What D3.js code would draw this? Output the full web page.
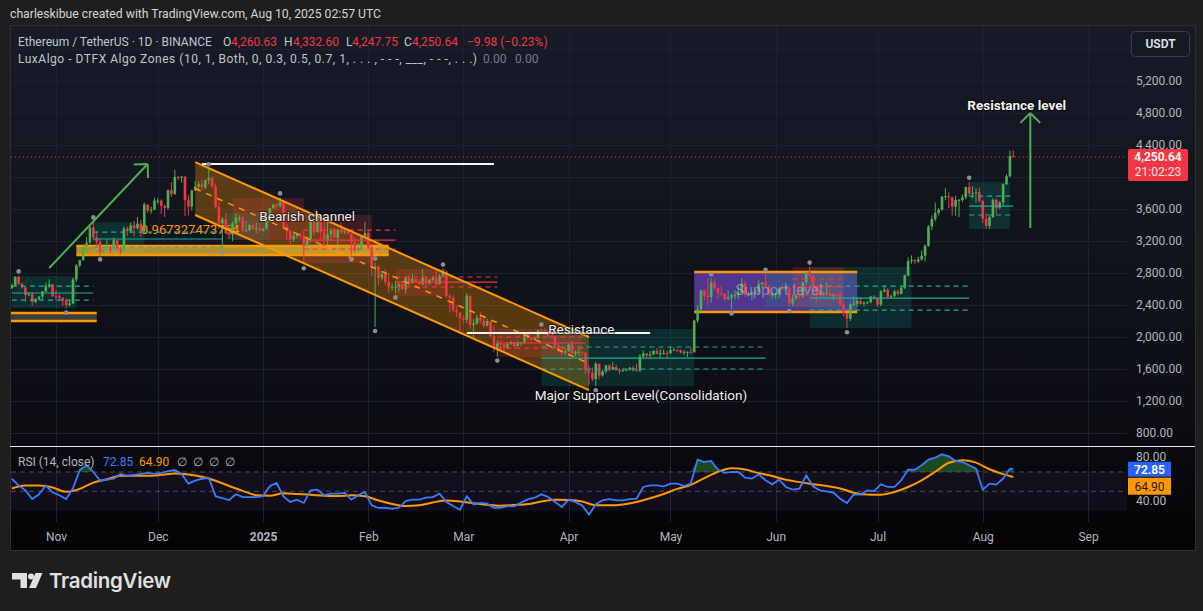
<!DOCTYPE html>
<html>
<head>
<meta charset="utf-8">
<script src="https://cdn.jsdelivr.net/npm/d3@7"></script>
<style>
  html, body { margin: 0; padding: 0; background: #1e1e1e; }
  svg { display: block; font-family: Roboto, "Noto Sans", sans-serif; }
</style>
</head>
<body>
<svg id="chart" width="1203" height="611"></svg>
<script>
// ---- ETH/USDT daily candles, 2024-10-19 .. 2025-08-10 (open = previous close) ----
const startDate = '2024-10-19';
const firstOpen = 2610;
const closes = [
  2645,2750,2665,2620,2525,2535,2440,2475,2505,2570,2640,2660,2515, // oct
  2510,2490,2455,2400,2420,2720,2895,2960,3125,3180,3370,3245,3185,3060,3105,3130,3075,3210,3105,3070,3355,3325,3395,3360,3415,3325,3655,3580,3590,3705, // nov
  3705,3640,3615,3835,3785,4000,3995,4005,3710,3630,3830,3880,3910,3870,3960,3985,3880,3625,3420,3475,3300,3280,3420,3490,3490,3330,3335,3400,3350,3360,3330, // dec
  3355,3450,3610,3655,3635,3685,3380,3325,3220,3265,3285,3265,3135,3225,3450,3310,3475,3305,3215,3280,3330,3240,3340,3310,3320,3290,3180,3080,3115,3250,3300, // jan
  3120,2870,2880,2735,2785,2690,2620,2630,2630,2660,2600,2740,2675,2725,2690,2660,2745,2670,2715,2740,2660,2765,2815,2515,2490,2335,2305,2235, // feb
  2215,2515,2150,2170,2240,2205,2140,2200,2015,1865,1920,1910,1865,1910,1935,1885,1925,1930,2055,1985,1965,1985,2085,2080,2065,2010,2000,1895,1830,1805,1820, // mar
  1905,1795,1815,1815,1805,1580,1555,1475,1665,1520,1570,1645,1595,1625,1585,1575,1585,1590,1615,1585,1580,1755,1795,1770,1785,1825,1790,1800,1800,1795, // apr
  1840,1840,1835,1805,1815,1815,1810,2205,2345,2580,2515,2500,2680,2610,2545,2540,2475,2495,2525,2525,2550,2665,2525,2530,2550,2565,2660,2680,2630,2530,2530, // may
  2540,2605,2595,2610,2420,2480,2525,2510,2685,2815,2770,2645,2580,2535,2545,2545,2510,2525,2520,2405,2295,2230,2410,2415,2450,2415,2425,2435,2505,2485, // jun
  2405,2570,2590,2505,2515,2570,2540,2615,2770,2950,2960,2945,2970,3015,3140,3380,3475,3550,3590,3755,3760,3745,3630,3710,3715,3745,3875,3795,3800,3810,3700, // jul
  3480,3390,3500,3715,3615,3680,3910,4010,4260.63,4250.64 // aug
];
const highs = [
  2665,2760,2770,2680,2630,2560,2560,2485,2510,2575,2680,2720,2660,
  2590,2535,2495,2485,2465,2740,2910,2965,3160,3250,3390,3445,3325,3235,3135,3220,3140,3245,3215,3130,3385,3380,3430,3450,3500,3465,3680,3660,3630,3740,
  3735,3720,3655,3845,3935,4090,4015,4010,4010,3780,3840,3950,3945,3970,3970,4110,4010,3920,3720,3500,3550,3345,3445,3545,3520,3515,3455,3420,3410,3430,3420,
  3365,3485,3620,3665,3675,3745,3700,3415,3335,3320,3295,3305,3335,3260,3475,3470,3525,3490,3450,3450,3360,3365,3350,3425,3345,3355,3290,3250,3180,3280,3440,
  3330,3160,2930,2890,2825,2855,2795,2670,2700,2685,2700,2755,2785,2790,2735,2720,2850,2750,2730,2760,2845,2785,2855,2830,2545,2525,2395,2310,
  2270,2550,2520,2220,2275,2320,2260,2225,2200,2145,1965,1955,1920,1940,1950,1940,1955,1935,2065,2070,2000,2000,2095,2105,2105,2070,2035,2015,1915,1850,1860,
  1920,1955,1835,1860,1825,1815,1640,1620,1690,1665,1590,1650,1655,1690,1660,1610,1605,1600,1625,1635,1665,1785,1830,1800,1825,1835,1860,1845,1840,1825,
  1875,1870,1845,1845,1835,1820,1870,2215,2400,2595,2585,2740,2735,2725,2615,2650,2550,2580,2545,2585,2630,2735,2700,2565,2565,2595,2710,2690,2790,2650,2560,
  2545,2610,2660,2680,2640,2525,2535,2535,2690,2830,2880,2780,2645,2590,2570,2680,2600,2545,2550,2565,2445,2300,2420,2505,2500,2495,2450,2450,2515,2525,
  2495,2590,2635,2610,2525,2590,2595,2630,2780,2995,3020,2975,3000,3080,3160,3400,3520,3680,3615,3760,3860,3810,3755,3765,3725,3780,3880,3940,3885,3860,3870,
  3715,3545,3510,3735,3730,3700,3920,4035,4330,4332.60
];
const lows = [
  2600,2630,2650,2605,2440,2510,2390,2420,2460,2470,2565,2610,2500,
  2460,2470,2390,2355,2380,2410,2690,2870,2950,3070,3155,3205,3115,3020,3030,3085,3040,3060,3080,3030,3060,3260,3300,3255,3345,3250,3300,3550,3540,3585,
  3665,3540,3500,3590,3750,3780,3960,3930,3510,3520,3580,3825,3850,3835,3850,3910,3860,3610,3350,3100,3290,3225,3200,3400,3440,3310,3310,3320,3340,3300,3310,
  3320,3345,3440,3595,3590,3620,3360,3210,3160,3190,3235,3230,2910,3125,3185,3265,3305,3210,3130,3150,3200,3240,3150,3280,3290,3280,3020,3060,3050,3100,3260,
  3100,2760,2125,2650,2710,2650,2555,2580,2545,2560,2590,2545,2620,2665,2680,2655,2645,2610,2650,2700,2625,2655,2750,2490,2310,2310,2250,2075,
  2165,2170,2100,1995,2150,2165,2110,2130,1995,1810,1755,1830,1825,1860,1905,1860,1885,1890,1915,1960,1945,1960,1980,2035,2035,1995,1990,1860,1805,1770,1780,
  1820,1780,1760,1765,1770,1535,1410,1450,1385,1470,1505,1545,1570,1590,1580,1535,1565,1575,1580,1565,1570,1565,1740,1735,1745,1775,1785,1740,1780,1735,
  1790,1825,1815,1795,1775,1750,1790,1805,2175,2330,2455,2400,2425,2590,2480,2515,2450,2460,2345,2470,2475,2545,2500,2505,2460,2540,2530,2610,2620,2505,2480,
  2475,2490,2585,2590,2375,2385,2465,2480,2490,2650,2745,2620,2440,2485,2505,2535,2480,2465,2495,2390,2255,2110,2200,2385,2375,2400,2380,2410,2420,2465,
  2375,2385,2555,2475,2485,2500,2520,2530,2600,2760,2915,2910,2925,2955,2945,3125,3335,3445,3520,3580,3710,3610,3520,3515,3500,3690,3725,3760,3730,3680,3680,
  3425,3355,3355,3490,3530,3600,3640,3900,3995,4247.75
];

// RSI(14) read every 2 days from 2024-10-19, MA read every 4 days
const rsiValues = [
  63,56,51,42,47,56,49,46,42,53, 72,77,70,61,62,63,68,66,67,68,
  69,68,69,71,72,68,58,61,63,64, 45,43,41,47,44,44,44,45,55.5,58.6,
  44.8,39,41.4,38,51,51.7,45.9,47.6,47.6,48.3, 41.4,45.9,49.3,35.5,32.8,32.8,32,33,40,41.4,
  41.4,43.4,44,47.6,39,34.8,31,44.8,36.5,38, 37.2,32.8,33,34.8,34.5,38.5,41.7,43.4,46.9,44.1,
  39,33.8,41.4,39,35.5,25.9,36.6,40.7,42,40.7, 40.7,42,42.4,54.5,56.2,56.2,55.2,58,58,55.5,
  58,82.8,80.3,81.4,72.4,69,70,70,64.1,63.1, 67.6,61.4,57.2,62,54.5,51.7,52.8,66.6,55.2,51,
  50,48.6,42.4,38,46.9,46.6,51,50.3,57.2,54.5, 54.5,61.4,72.4,72.4,76.9,82.8,84.8,88.3,86.2,81.4,
  80.3,76.9,73.4,51.7,58,56.9,63.1,73.4
];
const rsiLast = ['2025-08-10', 72.85];
const maValues = [
  53,56,56,54,49.5,52.5,59,62.5,66,66, 66,67,68.5,67.5,65,61,55.5,50.5,46,45.5,
  48,47.2,46.5,45.5,45.2,45.9,44.8,40.5,37,34.8, 35.5,38.5,40.5,39.5,37.8,36,35,35.8,36.8,39.5,
  41.3,41,39.5,35.5,35.5,36.4,39,42.9,47.3,52.5, 56.7,63.6,70.2,73.8,72.5,68.8,65.8,62,59.5,57.3,
  55.4,53,48.6,46.6,46.5,49.3,54.5,61.4,70.2,79.5, 82.2,79.7,72.8,67.8
];
const maLast = ['2025-08-10', 64.90];

// axes
const monthTicks = ['2024-11-01','2024-12-01','2025-01-01','2025-02-01','2025-03-01','2025-04-01','2025-05-01','2025-06-01','2025-07-01','2025-08-01','2025-09-01'];
const monthLabels = ['Nov','Dec','2025','Feb','Mar','Apr','May','Jun','Jul','Aug','Sep'];
const priceTicks = [800,1200,1600,2000,2400,2800,3200,3600,4000,4400,4800,5200,5600];
const hiddenPriceLabels = [4000, 5600]; // covered by the price tag and the currency button
const rsiTicks = [40, 80];
const lastPrice = 4250.64;

// DTFX zones [from, to, top, bottom] and their levels [from, to, upper, mid, lower]
const bullZones = [
  ['2024-10-19','2024-11-07',2762,2362], ['2024-11-12','2024-11-27',3437,3025],
  ['2024-12-21','2025-01-03',3550,3212], ['2025-03-24','2025-05-08',2100,1387],
  ['2025-05-29','2025-06-21',2800,2375], ['2025-06-11','2025-07-11',2875,2112],
  ['2025-07-28','2025-08-09',3937,3350]
];
const bearZones = [
  ['2024-12-23','2025-01-13',3737,3212], ['2025-01-13','2025-02-02',3525,2925],
  ['2025-02-09','2025-02-24',2850,2512], ['2025-03-11','2025-04-05',2100,1750],
  ['2025-06-06','2025-06-21',2875,2375]
];
const bullLevels = [
  ['2024-10-19','2024-11-12',2637,2550,2462], ['2024-11-12','2024-12-20',3312,3225,3125],
  ['2025-03-24','2025-05-29',1875,1737,1600], ['2025-06-11','2025-07-28',2637,2487,2337],
  ['2025-07-28','2025-08-10',3762,3637,3525]
];
const bearLevels = [
  ['2025-01-13','2025-02-09',3337,3212,3100], ['2025-02-09','2025-03-11',2750,2687,2625],
  ['2025-03-11','2025-04-06',2000,1925,1862], ['2025-06-06','2025-06-21',2725,2625,2525]
];
const pivotHighs = ['2024-10-21','2024-11-12','2024-12-16','2025-01-06','2025-02-03','2025-02-23','2025-03-24','2025-05-13','2025-05-29','2025-06-11','2025-07-28'];
const pivotLows = ['2024-11-04','2024-11-14','2024-12-20','2025-01-13','2025-01-27','2025-02-03','2025-02-09','2025-03-11','2025-04-09','2025-05-19','2025-06-05','2025-06-22'];

// hand drawings
const supplyZone = ['2024-11-07','2025-02-07',3137,3025];
const baseZone = ['2024-10-18','2024-11-13',2300,2200];
const supportBox = ['2025-05-08','2025-06-25',2812,2312];
const channelTop = [['2024-12-12',4187],['2025-04-07',2000]];
const channelBottom = [['2024-12-12',3525],['2025-04-07',1337]];
const trendArrow = [['2024-10-30',2862],['2024-11-28',4162]];
const targetArrow = [['2025-08-15',3362],['2025-08-15',4800]];
const topLine = [['2024-12-14',4162],['2025-03-10',4162]];
const resistanceLine = [['2025-03-02',2050],['2025-04-25',2050]];
const notes = [
  {text: 'Bearish channel', date: '2025-01-14', price: 3512, anchor: 'middle'},
  {text: 'Resistance', date: '2025-03-26', price: 2100, anchor: 'start'},
  {text: 'Major Support Level(Consolidation)', date: '2025-03-22', price: 1275, anchor: 'start'},
  {text: 'Resistance level', date: '2025-08-11', price: 4900, anchor: 'middle', bold: true}
];

// ---------------------------------------------------------------
const parse = d3.utcParse('%Y-%m-%d');
const DAY = 864e5;
const t0 = parse(startDate);
const candles = closes.map((c, i) => {
  const o = i ? closes[i - 1] : firstOpen;
  return { date: new Date(+t0 + i * DAY), o, c, h: Math.max(highs[i], o, c), l: Math.min(lows[i], o, c) };
});

const svg = d3.select('#chart');
const padL = 11, padR = 1127, paneTop = 26, mainBottom = 446, rsiTop = 447, rsiBottom = 522;

const x = d3.scaleUtc().domain([parse('2024-11-01'), parse('2025-09-01')]).range([56, 1088]);
const y = d3.scaleLinear().domain([800, 5200]).range([433, 81]);
const yR = d3.scaleLinear().domain([40, 80]).range([501, 462.3]);
const px = d => x(parse(d));

const defs = svg.append('defs');
const grad = defs.append('linearGradient').attr('id', 'bg').attr('x1', 0).attr('y1', 0).attr('x2', 0).attr('y2', 1);
grad.append('stop').attr('offset', '0%').attr('stop-color', '#171b26');
grad.append('stop').attr('offset', '75%').attr('stop-color', '#0c0d13');
grad.append('stop').attr('offset', '100%').attr('stop-color', '#030304');
defs.append('clipPath').attr('id', 'clipMain').append('rect').attr('x', padL).attr('y', paneTop).attr('width', padR - padL).attr('height', mainBottom - paneTop);
defs.append('clipPath').attr('id', 'clipRsi').append('rect').attr('x', padL).attr('y', rsiTop).attr('width', padR - padL).attr('height', rsiBottom - rsiTop);
defs.append('clipPath').attr('id', 'clipRsiAxis').append('rect').attr('x', padR).attr('y', rsiTop + 1).attr('width', 70).attr('height', rsiBottom - rsiTop);

// page + panel
svg.append('rect').attr('width', 1203).attr('height', 611).attr('fill', '#1e1e1e');
svg.append('rect').attr('x', 10.5).attr('y', 25.5).attr('width', 1185).attr('height', 525)
  .attr('fill', 'url(#bg)').attr('stroke', '#2f2f2f');

// header
svg.append('text').attr('x', 10).attr('y', 18).attr('font-size', 12.5).attr('fill', '#d6d6d6')
  .attr('textLength', 371).attr('lengthAdjust', 'spacingAndGlyphs')
  .text('charleskibue created with TradingView.com, Aug 10, 2025 02:57 UTC');

// grid
const grid = svg.append('g').attr('stroke', '#1d212c').attr('stroke-width', 1);
grid.selectAll('.hg').data(priceTicks).join('line')
  .attr('x1', padL).attr('x2', padR).attr('y1', d => Math.round(y(d)) + 0.5).attr('y2', d => Math.round(y(d)) + 0.5);
grid.selectAll('.vg').data(monthTicks).join('line')
  .attr('y1', paneTop).attr('y2', rsiBottom).attr('x1', d => Math.round(px(d)) + 0.5).attr('x2', d => Math.round(px(d)) + 0.5);

const main = svg.append('g').attr('clip-path', 'url(#clipMain)');

// zones under candles
const zoneRect = (g, z) => g.append('rect')
  .attr('x', px(z[0])).attr('width', px(z[1]) - px(z[0]))
  .attr('y', y(z[2])).attr('height', y(z[3]) - y(z[2]));

main.append('path')
  .attr('d', `M${px(channelTop[0][0])},${y(channelTop[0][1])}L${px(channelTop[1][0])},${y(channelTop[1][1])}` +
             `L${px(channelBottom[1][0])},${y(channelBottom[1][1])}L${px(channelBottom[0][0])},${y(channelBottom[0][1])}Z`)
  .attr('fill', '#ff9800').attr('fill-opacity', 0.3);

zoneRect(main, supportBox).attr('fill', '#5b3ea3').attr('fill-opacity', 0.85);
bullZones.forEach(z => zoneRect(main, z).attr('fill', '#089981').attr('fill-opacity', 0.2));
bearZones.forEach(z => zoneRect(main, z).attr('fill', '#f23645').attr('fill-opacity', 0.2));

zoneRect(main, supplyZone).attr('fill', '#dcb43c').attr('fill-opacity', 0.78);
zoneRect(main, baseZone).attr('fill', '#3c3c3e');
[supplyZone, baseZone, supportBox].forEach(z => {
  [z[2], z[3]].forEach(p => main.append('line')
    .attr('x1', px(z[0])).attr('x2', px(z[1])).attr('y1', y(p)).attr('y2', y(p))
    .attr('stroke', '#ff9800').attr('stroke-width', 2.5));
});

// fib number left by the indicator
main.append('text').attr('x', px('2024-11-26')).attr('y', y(3350)).attr('dy', '0.35em')
  .attr('font-size', 13).attr('fill', '#ff9800').text('0.967327473764');

// candles
const bw = 2.6;
const cg = main.append('g');
cg.selectAll('line').data(candles).join('line')
  .attr('x1', d => x(d.date)).attr('x2', d => x(d.date))
  .attr('y1', d => y(d.h)).attr('y2', d => y(d.l))
  .attr('stroke', d => d.c >= d.o ? '#4caf50' : '#f23645').attr('stroke-width', 1);
cg.selectAll('rect').data(candles).join('rect')
  .attr('x', d => x(d.date) - bw / 2).attr('width', bw)
  .attr('y', d => y(Math.max(d.o, d.c)))
  .attr('height', d => Math.max(1, Math.abs(y(d.o) - y(d.c))))
  .attr('fill', d => d.c >= d.o ? '#4caf50' : '#f23645');

// zone levels
const levelLines = (list, color) => list.forEach(l => {
  [[l[2], '5,4'], [l[3], null], [l[4], '5,4']].forEach(([p, dash]) => main.append('line')
    .attr('x1', px(l[0])).attr('x2', px(l[1])).attr('y1', y(p)).attr('y2', y(p))
    .attr('stroke', color).attr('stroke-width', 1.2).attr('stroke-dasharray', dash));
});
levelLines(bullLevels, '#22ab94');
levelLines(bearLevels, '#f23645');

// channel borders + midline
const seg = (a, b) => `M${px(a[0])},${y(a[1])}L${px(b[0])},${y(b[1])}`;
main.append('path').attr('d', seg(channelTop[0], channelTop[1]) + seg(channelBottom[0], channelBottom[1]))
  .attr('stroke', '#ff9800').attr('stroke-width', 2).attr('fill', 'none');
const mid = i => [channelTop[i][0], (channelTop[i][1] + channelBottom[i][1]) / 2];
main.append('path').attr('d', seg(mid(0), mid(1)))
  .attr('stroke', '#ff9800').attr('stroke-width', 1.5).attr('stroke-dasharray', '6,6').attr('fill', 'none');

// white lines
[topLine, resistanceLine].forEach(l => main.append('path').attr('d', seg(l[0], l[1]))
  .attr('stroke', '#f5f5f5').attr('stroke-width', 2));

// arrows
const arrow = (a, b) => {
  const x1 = px(a[0]), y1 = y(a[1]), x2 = px(b[0]), y2 = y(b[1]);
  const back = Math.atan2(y1 - y2, x1 - x2);
  let d = `M${x1},${y1}L${x2},${y2}`;
  [-Math.PI / 4, Math.PI / 4].forEach(o => {
    d += `M${x2},${y2}L${x2 + 14 * Math.cos(back + o)},${y2 + 14 * Math.sin(back + o)}`;
  });
  main.append('path').attr('d', d).attr('stroke', '#4caf50').attr('stroke-width', 2).attr('fill', 'none');
};
arrow(trendArrow[0], trendArrow[1]);
arrow(targetArrow[0], targetArrow[1]);

// pivot dots
main.selectAll('.ph').data(pivotHighs).join('circle')
  .attr('cx', d => px(d)).attr('cy', d => y(candles.find(c => +c.date === +parse(d)).h) - 4)
  .attr('r', 2.3).attr('fill', '#8a8d96');
main.selectAll('.pl').data(pivotLows).join('circle')
  .attr('cx', d => px(d)).attr('cy', d => y(candles.find(c => +c.date === +parse(d)).l) + 4)
  .attr('r', 2.3).attr('fill', '#8a8d96');

// texts
main.append('text').attr('x', px('2025-06-02')).attr('y', y(2587)).attr('dy', '0.35em')
  .attr('text-anchor', 'middle').attr('font-size', 15).attr('fill', '#d8d0f0').attr('fill-opacity', 0.45)
  .text('Support level');
notes.forEach(n => main.append('text')
  .attr('x', px(n.date)).attr('y', y(n.price)).attr('dy', '0.35em')
  .attr('text-anchor', n.anchor).attr('font-size', 13.5).attr('font-weight', n.bold ? 700 : 400)
  .attr('fill', '#f0f0f0').attr('stroke', 'rgba(0,0,0,0.55)').attr('stroke-width', 2)
  .attr('paint-order', 'stroke').text(n.text));

// last price line
main.append('line').attr('x1', padL).attr('x2', padR).attr('y1', y(lastPrice)).attr('y2', y(lastPrice))
  .attr('stroke', '#f23645').attr('stroke-dasharray', '1,3');

// legend
const legend = svg.append('g').attr('font-size', 12);
const l1 = legend.append('text').attr('y', 46);
[['Ethereum / TetherUS · 1D · BINANCE', 18, '#c2c5cc'], ['O', 223, '#c2c5cc'], ['4,260.63', 231, '#f23645'],
 ['H', 284, '#c2c5cc'], ['4,332.60', 293, '#f23645'], ['L', 346, '#c2c5cc'], ['4,247.75', 352, '#f23645'],
 ['C', 404, '#c2c5cc'], ['4,250.64', 412, '#f23645'], ['−9.98 (−0.23%)', 467, '#f23645']]
  .forEach(([t, xx, c]) => l1.append('tspan').attr('x', xx).attr('fill', c).text(t));
legend.append('text').attr('x', 18).attr('y', 63).attr('fill', '#c2c5cc')
  .attr('textLength', 459).attr('lengthAdjust', 'spacing')
  .text('LuxAlgo - DTFX Algo Zones (10, 1, Both, 0, 0.3, 0.5, 0.7, 1, . . . , - - -, ___, - - -, . . .)');
const l2 = legend.append('text').attr('y', 63);
[['0.00', 483], ['0.00', 515]].forEach(([t, xx]) => l2.append('tspan').attr('x', xx).attr('fill', '#787b86').text(t));

// price axis
const pAxis = svg.append('g').attr('transform', `translate(${padR + 1},0)`)
  .call(d3.axisRight(y).tickValues(priceTicks.filter(p => !hiddenPriceLabels.includes(p)))
    .tickSize(0).tickPadding(8).tickFormat(d3.format(',.2f')));
pAxis.select('.domain').remove();
pAxis.selectAll('text').attr('fill', '#b2b5be').attr('font-size', 12).attr('font-family', 'Roboto, sans-serif');

// USDT button
svg.append('rect').attr('x', 1131.5).attr('y', 31.5).attr('width', 58).attr('height', 25).attr('rx', 4)
  .attr('fill', '#151821').attr('stroke', '#3c3f48');
svg.append('text').attr('x', 1160.5).attr('y', 48).attr('text-anchor', 'middle').attr('font-size', 12)
  .attr('font-weight', 600).attr('fill', '#e0e3eb').text('USDT');

// last price tag
const tagY = y(lastPrice);
svg.append('rect').attr('x', 1128).attr('y', tagY - 8).attr('width', 60).attr('height', 32).attr('rx', 2).attr('fill', '#f23645');
svg.append('text').attr('x', 1158).attr('y', tagY + 4.5).attr('text-anchor', 'middle').attr('font-size', 12)
  .attr('font-weight', 600).attr('fill', '#fff').text(d3.format(',.2f')(lastPrice));
svg.append('text').attr('x', 1158).attr('y', tagY + 19).attr('text-anchor', 'middle').attr('font-size', 12)
  .attr('fill', '#fde6e8').text('21:02:23');

// pane separator
svg.append('line').attr('x1', 10).attr('x2', 1195).attr('y1', 446.5).attr('y2', 446.5).attr('stroke', '#e8e8e8');

// RSI pane
const rsiG = svg.append('g').attr('clip-path', 'url(#clipRsi)');
rsiG.append('rect').attr('x', padL).attr('width', padR - padL).attr('y', yR(70)).attr('height', yR(30) - yR(70))
  .attr('fill', '#7e57c2').attr('fill-opacity', 0.09);
[70, 50].forEach(v => rsiG.append('line').attr('x1', padL).attr('x2', padR)
  .attr('y1', yR(v)).attr('y2', yR(v)).attr('stroke', '#4a4d57').attr('stroke-dasharray', '5,4'));

const rsiStart = parse(startDate);
const rsiPts = rsiValues.map((v, i) => [new Date(+rsiStart + 2 * i * DAY), v]).concat([[parse(rsiLast[0]), rsiLast[1]]]);
const maPts = maValues.map((v, i) => [new Date(+rsiStart + 4 * i * DAY), v]).concat([[parse(maLast[0]), maLast[1]]]);

rsiG.append('path').datum(rsiPts)
  .attr('d', d3.area().x(d => x(d[0])).y0(yR(70)).y1(d => yR(Math.max(70, d[1]))))
  .attr('fill', '#2e7d32').attr('fill-opacity', 0.55);
rsiG.append('path').datum(maPts)
  .attr('d', d3.line().x(d => x(d[0])).y(d => yR(d[1])).curve(d3.curveMonotoneX))
  .attr('fill', 'none').attr('stroke', '#ff9800').attr('stroke-width', 2);
rsiG.append('path').datum(rsiPts)
  .attr('d', d3.line().x(d => x(d[0])).y(d => yR(d[1])))
  .attr('fill', 'none').attr('stroke', '#3a7bff').attr('stroke-width', 1.8);

// RSI axis (the 80 label peeks out above the value tags, as in the original)
const rsiTagY = yR(rsiLast[1]);
const rAxis = svg.append('g').attr('transform', `translate(${padR + 1},0)`)
  .call(d3.axisRight(yR).tickValues([40]).tickSize(0).tickPadding(8).tickFormat(d3.format('.2f')));
rAxis.select('.domain').remove();
rAxis.selectAll('text').attr('fill', '#b2b5be').attr('font-size', 12).attr('font-family', 'Roboto, sans-serif');
svg.append('g').attr('clip-path', 'url(#clipRsiAxis)').append('text')
  .attr('x', padR + 9).attr('y', yR(rsiTicks[1]) - 5).attr('dy', '0.32em')
  .attr('font-size', 12).attr('fill', '#b2b5be').text(rsiTicks[1].toFixed(2));

svg.append('rect').attr('x', 1128).attr('y', rsiTagY - 7.5).attr('width', 43).attr('height', 15).attr('fill', '#2962ff');
svg.append('text').attr('x', 1149.5).attr('y', rsiTagY + 4.5).attr('text-anchor', 'middle').attr('font-size', 12)
  .attr('font-weight', 600).attr('fill', '#fff').text(rsiLast[1].toFixed(2));
svg.append('rect').attr('x', 1128).attr('y', rsiTagY + 8.5).attr('width', 43).attr('height', 17).attr('fill', '#ff9800');
svg.append('text').attr('x', 1149.5).attr('y', rsiTagY + 21.5).attr('text-anchor', 'middle').attr('font-size', 12)
  .attr('fill', '#1a1a1a').text(maLast[1].toFixed(2));

const rl = svg.append('text').attr('y', 466).attr('font-size', 12);
[['RSI (14, close)', 18, '#b2b5be'], [rsiLast[1].toFixed(2), 103, '#3a7bff'], [maLast[1].toFixed(2), 139, '#ff9800'],
 ['∅', 177, '#b2b5be'], ['∅', 193, '#b2b5be'], ['∅', 209, '#b2b5be'], ['∅', 225, '#b2b5be']]
  .forEach(([t, xx, c]) => rl.append('tspan').attr('x', xx).attr('fill', c).text(t));

// time axis
const tAxis = svg.append('g').attr('transform', `translate(0,${rsiBottom})`)
  .call(d3.axisBottom(x).tickValues(monthTicks.map(parse)).tickSize(0).tickPadding(10)
    .tickFormat((d, i) => monthLabels[i]));
tAxis.select('.domain').remove();
tAxis.selectAll('text').attr('fill', '#b2b5be').attr('font-size', 12).attr('font-family', 'Roboto, sans-serif')
  .attr('font-weight', (d, i) => monthLabels[i] === '2025' ? 700 : 400);

// TradingView logo
const logo = svg.append('g').attr('fill', '#e0e0e0');
logo.append('path').attr('d', 'M12,573H27V588H20.5V579.5H12Z');
logo.append('circle').attr('cx', 31).attr('cy', 576.5).attr('r', 3);
logo.append('path').attr('d', 'M35.5,573H42.5L36,588H29Z');
logo.append('text').attr('x', 49).attr('y', 588).attr('font-family', 'Inter, sans-serif')
  .attr('font-size', 20.5).attr('font-weight', 600).attr('letter-spacing', -0.3).text('TradingView');
</script>
</body>
</html>
